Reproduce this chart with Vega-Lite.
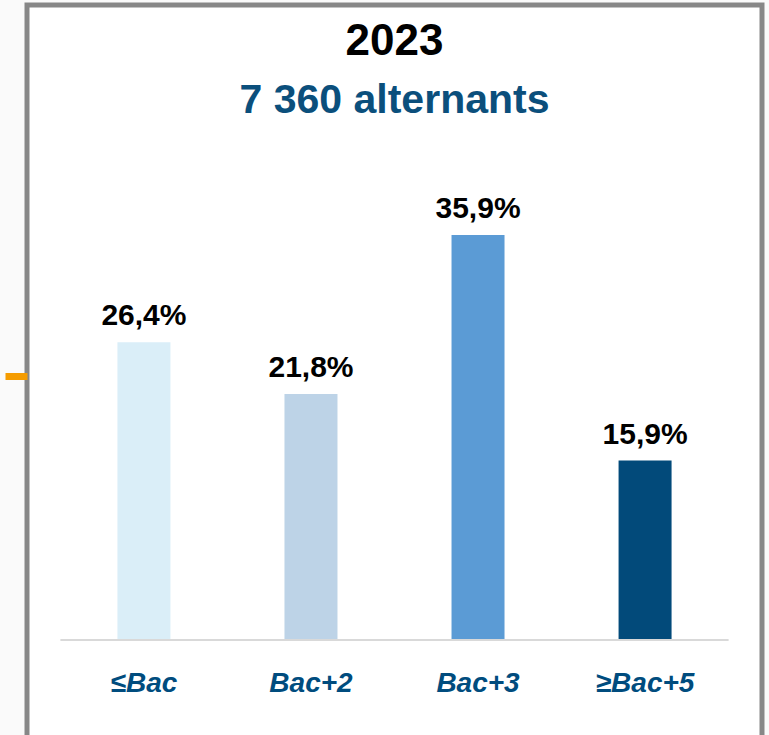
{
  "$schema": "https://vega.github.io/schema/vega-lite/v6.json",
  "autosize": {"type": "none"},
  "padding": {"left": 27, "top": 5, "right": 7, "bottom": 0},
  "width": 735,
  "height": 740,
  "background": "#fafafa",
  "title": {
    "text": "2023",
    "subtitle": "7 360 alternants",
    "anchor": "middle",
    "orient": "top",
    "offset": -116,
    "font": "Liberation Sans",
    "fontSize": 44,
    "fontWeight": "bold",
    "color": "#000000",
    "subtitleFont": "Liberation Sans",
    "subtitleFontSize": 41,
    "subtitleFontWeight": "bold",
    "subtitleColor": "#0b4f7c",
    "subtitlePadding": 17
  },
  "config": {
    "view": {"stroke": "#878787", "strokeWidth": 5, "fill": "#ffffff"},
    "font": "Liberation Sans"
  },
  "datasets": {
    "bars": [
      {"cat": "≤Bac", "pct": 26.4, "label": "26,4%"},
      {"cat": "Bac+2", "pct": 21.8, "label": "21,8%"},
      {"cat": "Bac+3", "pct": 35.9, "label": "35,9%"},
      {"cat": "≥Bac+5", "pct": 15.9, "label": "15,9%"}
    ],
    "base": [{"s": "≤Bac", "e": "≥Bac+5", "v": 0}]
  },
  "layer": [
    {
      "data": {"name": "bars"},
      "mark": {"type": "bar", "width": 53},
      "encoding": {
        "x": {
          "field": "cat", "type": "nominal", "sort": null,
          "scale": {"domain": ["≤Bac", "Bac+2", "Bac+3", "≥Bac+5"], "paddingInner": 0, "paddingOuter": 0.2},
          "axis": {
            "title": null, "orient": "bottom", "domain": false, "ticks": false, "tickSize": 0,
            "labelPadding": 0, "offset": -54, "labelBaseline": "alphabetic",
            "labelFont": "Liberation Sans", "labelFontSize": 28, "labelFontWeight": "bold",
            "labelFontStyle": "italic", "labelColor": "#004c7e", "labelAngle": 0
          }
        },
        "y": {
          "field": "pct", "type": "quantitative",
          "scale": {"domain": [-9.31, 56.29], "nice": false, "zero": false},
          "axis": {
            "title": null, "values": [23.4], "labels": false, "domain": false, "grid": false,
            "ticks": true, "tickColor": "#f59c00", "tickSize": 22, "tickWidth": 7, "tickCap": "butt"
          }
        },
        "y2": {"datum": 0},
        "color": {
          "field": "cat", "type": "nominal", "legend": null,
          "scale": {"domain": ["≤Bac", "Bac+2", "Bac+3", "≥Bac+5"], "range": ["#daeef8", "#bdd3e7", "#5b9bd5", "#024a7a"]}
        }
      }
    },
    {
      "data": {"name": "bars"},
      "mark": {"type": "text", "baseline": "alphabetic", "dy": -17, "fontSize": 30, "fontWeight": "bold", "color": "#000000", "font": "Liberation Sans"},
      "encoding": {
        "x": {"field": "cat", "type": "nominal"},
        "y": {"field": "pct", "type": "quantitative"},
        "text": {"field": "label"}
      }
    },
    {
      "data": {"name": "base"},
      "mark": {"type": "rule", "color": "#d9d9d9", "strokeWidth": 2},
      "encoding": {
        "x": {"field": "s", "type": "nominal", "bandPosition": 0},
        "x2": {"field": "e", "bandPosition": 1},
        "y": {"field": "v", "type": "quantitative"}
      }
    }
  ]
}
